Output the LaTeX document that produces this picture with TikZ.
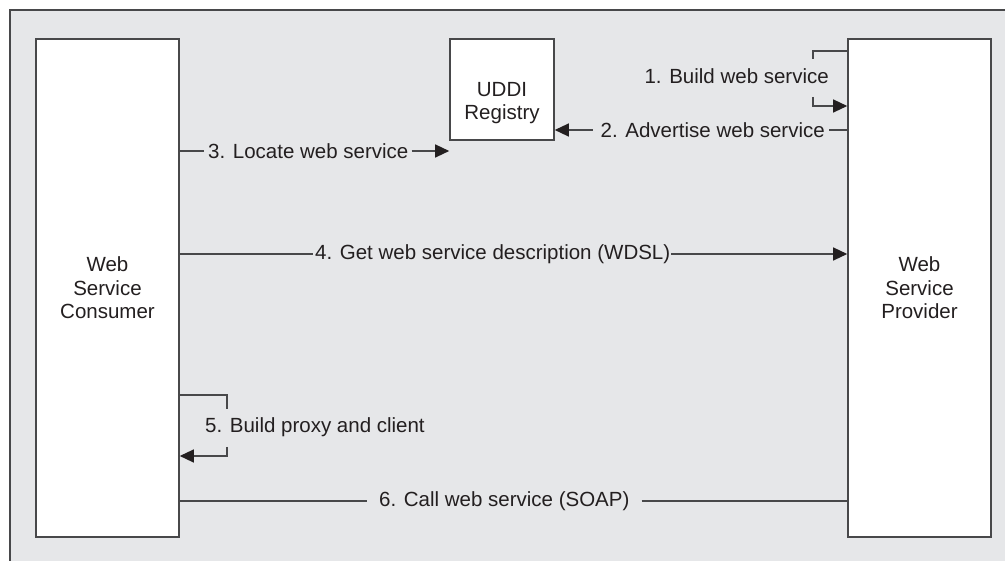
\documentclass[tikz,border=0pt]{standalone}
\usepackage{fontspec}
\setmainfont{Liberation Sans}
\usetikzlibrary{arrows.meta}
\definecolor{panel}{HTML}{E6E7E9}
\definecolor{ink}{HTML}{48484A}
\definecolor{txt}{HTML}{231F20}
\begin{document}
\begin{tikzpicture}[x=1pt,y=-1pt,
  box/.style={draw=ink, line width=1.6pt, fill=white, inner sep=0pt},
  boxtext/.style={align=center, font=\fontsize{20.5}{23.5}\selectfont, text=txt, inner sep=0pt},
  lab/.style={font=\fontsize{20.5}{23.5}\selectfont, text=txt, inner sep=0pt, anchor=west},
  wire/.style={draw=ink, line width=1.3pt},
  tip/.style={-{Triangle[length=14pt,width=13pt,color=txt]}}]
\useasboundingbox (0,0) rectangle (1005,561);
% panel with its top and left rules
\fill[panel] (10,10) rectangle (1005,561);
\draw[ink, line width=1.3pt] (10,561) -- (10,10) -- (1005,10);

% the three parties
\node[box, minimum width=143pt, minimum height=498pt] (cons) at (107.5,288) {};
\node[boxtext] (consT) at (cons.center) {Web\\Service\\Consumer};
\node[box, minimum width=104pt, minimum height=101pt] (uddi) at (502,89.5) {};
\node[boxtext] (uddiT) at (502,103) {UDDI\\Registry};
\node[box, minimum width=143pt, minimum height=498pt] (prov) at (919.5,288) {};
\node[boxtext] (provT) at (prov.center) {Web\\Service\\Provider};

% step labels
\node[lab, anchor=east] (s1) at (829,76) {1. Build web service};
\node[lab, anchor=east] (s2) at (825,130) {2. Advertise web service};
\node[lab] (s3) at (208,151) {3. Locate web service};
\node[lab] (s4) at (315,254) {4. Get web service description (WDSL)};
\node[lab] (s5) at (205,427) {5. Build proxy and client};
\node[lab] (s6) at (379,501) {6. Call web service (SOAP)};

% bracket ends
\coordinate (b1a) at (813,59);
\coordinate (b1b) at (813,97);
\coordinate (b5a) at (227,409);
\coordinate (b5b) at (227,447);

% 1. build
\draw[wire] (b1a) |- (prov.west |- 0,51);
\draw[wire, tip] (b1b) |- (prov.west |- 0,106);
% 2. advertise
\draw[wire] (prov.west |- s2.east) -- ([xshift=4pt]s2.east);
\draw[wire, tip] ([xshift=-8pt]s2.west) -- (uddi.east |- s2.west);
% 3. locate
\draw[wire] (cons.east |- s3.west) -- ([xshift=-4pt]s3.west);
\draw[wire, tip] ([xshift=3pt]s3.east) -- (uddi.west |- s3.east);
% 4. description
\draw[wire] (cons.east |- s4.west) -- ([xshift=-2pt]s4.west);
\draw[wire, tip] ([xshift=1pt]s4.east) -- (prov.west |- s4.east);
% 5. proxy
\draw[wire] (b5a) |- (cons.east |- 0,395);
\draw[wire, tip] (b5b) |- (cons.east |- 0,456);
% 6. call
\draw[wire] (cons.east |- s6.west) -- ([xshift=-12pt]s6.west);
\draw[wire] ([xshift=12pt]s6.east) -- (prov.west |- s6.east);
\end{tikzpicture}
\end{document}
